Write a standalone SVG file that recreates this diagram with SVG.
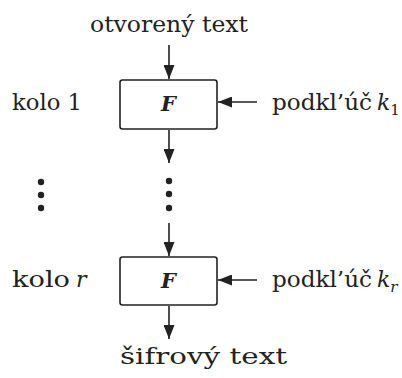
<svg xmlns="http://www.w3.org/2000/svg" width="402" height="378" viewBox="0 0 402 378">
<style>
  text { font-family: "DejaVu Serif", "Liberation Serif", serif; fill: #222; }
  .lbl { font-size: 22px; }
  .sub { font-size: 15px; }
  .it { font-style: italic; }
  .F { font-size: 21px; font-weight: bold; font-style: italic; text-anchor: middle; }
  .box { fill: #fff; stroke: #222; stroke-width: 1.6; }
  .conn line { stroke: #222; stroke-width: 1.6; }
  .dot { fill: #222; }
</style>
<defs>
  <marker id="ah" markerWidth="14" markerHeight="11" refX="14" refY="5.5" viewBox="0 0 14 11" orient="auto" markerUnits="userSpaceOnUse">
    <path d="M0,0 L14,5.5 L0,11 Z" fill="#222"/>
  </marker>
</defs>

<g id="label-in">
  <text class="lbl" x="169" y="32" text-anchor="middle" textLength="158" lengthAdjust="spacingAndGlyphs">otvorený text</text>
</g>

<g id="round1">
  <text class="lbl" x="12" y="110" textLength="70" lengthAdjust="spacingAndGlyphs">kolo 1</text>
  <rect class="box" x="120" y="80" width="97" height="49" rx="2.5"/>
  <text class="F" x="168.5" y="111">F</text>
</g>
<g id="key1">
  <text class="lbl" x="272" y="110"><tspan textLength="100" lengthAdjust="spacingAndGlyphs">podkl’úč</tspan><tspan class="it" dx="5">k</tspan><tspan class="sub" dy="5">1</tspan></text>
</g>

<g id="dots-left">
  <circle class="dot" cx="41" cy="182" r="3.2"/>
  <circle class="dot" cx="41" cy="195" r="3.2"/>
  <circle class="dot" cx="41" cy="208" r="3.2"/>
</g>
<g id="dots-mid">
  <circle class="dot" cx="169" cy="181" r="3.2"/>
  <circle class="dot" cx="169" cy="194" r="3.2"/>
  <circle class="dot" cx="169" cy="208" r="3.2"/>
</g>

<g id="roundr">
  <text class="lbl" x="12" y="287"><tspan textLength="58" lengthAdjust="spacingAndGlyphs">kolo</tspan><tspan class="it" dx="6">r</tspan></text>
  <rect class="box" x="120" y="257" width="97" height="48" rx="2.5"/>
  <text class="F" x="168.5" y="288">F</text>
</g>
<g id="keyr">
  <text class="lbl" x="272" y="287"><tspan textLength="100" lengthAdjust="spacingAndGlyphs">podkl’úč</tspan><tspan class="it" dx="5">k</tspan><tspan class="sub it" dy="5">r</tspan></text>
</g>

<g id="label-out">
  <text class="lbl" x="203.5" y="364" text-anchor="middle" textLength="167" lengthAdjust="spacingAndGlyphs">šifrový text</text>
</g>

<g class="conn" id="connectors">
  <line x1="169" y1="45" x2="169" y2="79" marker-end="url(#ah)"/>
  <line x1="257" y1="102" x2="218" y2="102" marker-end="url(#ah)"/>
  <line x1="169" y1="130" x2="169" y2="163" marker-end="url(#ah)"/>
  <line x1="169" y1="223" x2="169" y2="256" marker-end="url(#ah)"/>
  <line x1="257" y1="280" x2="218" y2="280" marker-end="url(#ah)"/>
  <line x1="169" y1="306" x2="169" y2="339" marker-end="url(#ah)"/>
</g>
</svg>
